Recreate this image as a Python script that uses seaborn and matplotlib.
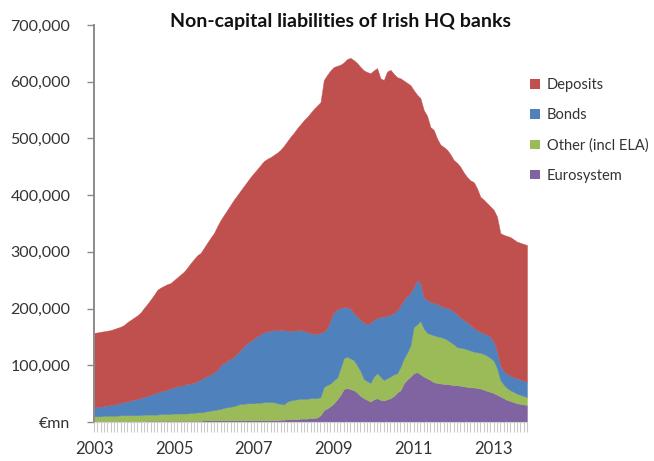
import numpy as np
import pandas as pd
import matplotlib
matplotlib.use("Agg")
import matplotlib.pyplot as plt
from matplotlib.patches import Patch
from matplotlib.ticker import FixedLocator, MultipleLocator
import seaborn as sns

# Monthly balances, Jan 2003 - Nov 2013, in EUR billion
months = pd.date_range("2003-01-01", periods=131, freq="MS")

eurosystem = [
    1, 1, 1, 1, 1, 1, 1, 1, 1, 1, 1, 1,
    1, 1, 1, 1, 2, 2, 2, 2, 2, 2, 2, 2,
    2, 2, 2, 2, 2, 2, 2, 2, 2, 3, 3, 3,
    3, 3, 3, 3, 3, 3, 3, 3, 3, 3, 3, 3,
    3, 3, 3, 3, 3, 3, 3, 3, 4, 4, 5, 5,
    5, 5, 6, 6, 6, 7, 7, 8, 12, 21, 24, 28,
    33, 40, 48, 58, 60, 58, 56, 52, 46, 42, 39, 36,
    40, 42, 39, 38, 40, 42, 46, 52, 56, 68, 75, 80,
    86, 88, 84, 80, 77, 74, 70, 69, 68, 67, 67, 66,
    65, 65, 64, 63, 62, 61, 61, 60, 59, 57, 55, 53,
    51, 48, 45, 42, 39, 37, 35, 33, 32, 31, 30,
]

other = [
    9, 9, 9, 10, 10, 10, 10, 10, 11, 11, 11, 11,
    11, 11, 11, 12, 11, 11, 11, 11, 12, 12, 12, 12,
    13, 13, 13, 13, 13, 14, 14, 15, 15, 15, 16, 17,
    18, 19, 20, 22, 23, 24, 25, 27, 29, 29, 30, 30,
    30, 31, 31, 32, 32, 32, 32, 30, 28, 27, 31, 33,
    34, 35, 35, 35, 35, 35, 35, 34, 32, 41, 41, 40,
    41, 38, 47, 55, 55, 54, 53, 48, 44, 34, 33, 33,
    40, 44, 41, 36, 37, 38, 38, 34, 41, 44, 47, 55,
    82, 84, 94, 85, 80, 81, 83, 82, 82, 81, 78, 75,
    72, 67, 67, 67, 66, 65, 63, 63, 63, 63, 62, 60,
    57, 47, 29, 24, 21, 19, 18, 17, 16, 15, 14,
]

bonds = [
    16, 17, 17, 17, 18, 19, 20, 21, 22, 23, 24, 26,
    27, 29, 30, 31, 33, 35, 37, 39, 40, 41, 43, 45,
    46, 48, 49, 50, 52, 52, 53, 55, 58, 60, 62, 64,
    66, 70, 77, 79, 82, 84, 87, 91, 95, 101, 106, 110,
    114, 117, 121, 123, 125, 126, 127, 129, 130, 131, 125, 123,
    122, 122, 121, 119, 118, 115, 113, 114, 113, 98, 100, 112,
    120, 120, 106, 90, 87, 88, 83, 86, 90, 100, 100, 106,
    100, 98, 105, 112, 110, 109, 108, 111, 108, 103, 100, 93,
    70, 78, 67, 55, 58, 57, 57, 57, 55, 55, 56, 58,
    58, 58, 53, 50, 48, 45, 42, 39, 37, 36, 37, 37,
    34, 30, 26, 24, 25, 26, 26, 27, 27, 27, 27,
]

deposits = [
    131, 131, 132, 132, 132, 132, 133, 134, 134, 136, 140, 142,
    145, 147, 151, 157, 162, 168, 174, 181, 183, 185, 186, 186,
    189, 192, 196, 200, 205, 212, 218, 222, 223, 229, 235, 241,
    246, 253, 256, 261, 266, 272, 277, 279, 281, 283, 285, 289,
    292, 295, 298, 302, 304, 306, 309, 313, 318, 325, 334, 342,
    349, 356, 363, 372, 379, 388, 397, 402, 407, 443, 447, 440,
    432, 430, 429, 431, 438, 442, 446, 447, 446, 444, 445, 440,
    440, 440, 421, 417, 431, 432, 422, 411, 401, 387, 376, 366,
    347, 327, 326, 330, 325, 308, 305, 292, 284, 282, 279, 273,
    267, 267, 266, 260, 256, 255, 257, 250, 238, 236, 232, 230,
    232, 237, 233, 240, 243, 244, 243, 241, 241, 241, 241,
]

series_names = ["Eurosystem", "Other (incl ELA)", "Bonds", "Deposits"]
series_colors = ["#8064A2", "#9BBB59", "#4F81BD", "#C0504D"]
year_labels = ["2003", "2005", "2007", "2009", "2011", "2013"]

df = pd.DataFrame({
    "month": months,
    "Eurosystem": eurosystem,
    "Other (incl ELA)": other,
    "Bonds": bonds,
    "Deposits": deposits,
})
df[series_names] = df[series_names] * 1000  # EUR million

sns.set_theme(style="ticks")
plt.rcParams["font.family"] = ["Lato", "DejaVu Sans"]

W, H = 654, 461
fig = plt.figure(figsize=(W / 100, H / 100), dpi=100)
ax = fig.add_axes([94 / W, 39 / H, 433 / W, 397 / H])

xpos = np.arange(len(df))
ax.stackplot(xpos, *[df[c].to_numpy() for c in series_names],
             colors=series_colors, edgecolor="face", linewidth=0.3)

ax.set_xlim(0, len(df) - 1)
ax.set_ylim(0, 700000)

# y axis
yt = np.arange(0, 700001, 100000)
ax.set_yticks(yt)
ax.set_yticklabels(["€mn"] + [f"{v:,}" for v in yt[1:]])
ax.tick_params(axis="y", direction="out", length=5, width=1.0,
               color="#8a8a8a", pad=12, labelsize=11.5, labelcolor="#333333")

# x axis: month ticks, year labels every two years
year_idx = [i for i, d in enumerate(df["month"]) if d.month == 1 and d.year % 2 == 1]
ax.xaxis.set_major_locator(FixedLocator(year_idx))
ax.set_xticklabels(year_labels)
ax.xaxis.set_minor_locator(MultipleLocator(1))
ax.tick_params(axis="x", which="both", direction="out", length=7, width=0.8,
               color="#c9c9c9", pad=7, labelsize=12, labelcolor="#333333")

for s in ("top", "right"):
    ax.spines[s].set_visible(False)
ax.spines["left"].set_color("#8a8a8a")
ax.spines["left"].set_linewidth(1.4)
ax.spines["bottom"].set_color("#cfcfcf")
ax.spines["bottom"].set_linewidth(0.8)

fig.text(341 / W, 1 - 22 / H, "Non-capital liabilities of Irish HQ banks",
         ha="center", va="center", fontsize=14, fontweight="bold", color="#111111")

handles = [Patch(facecolor=c, edgecolor="none") for c in series_colors[::-1]]
fig.legend(handles, series_names[::-1], loc="upper left",
           bbox_to_anchor=(517 / W, 1 - 65 / H), frameon=False,
           handlelength=0.65, handleheight=0.65, handletextpad=0.5,
           labelspacing=1.1, fontsize=10.5, labelcolor="#333333")

fig.savefig("out.png", dpi=100)
